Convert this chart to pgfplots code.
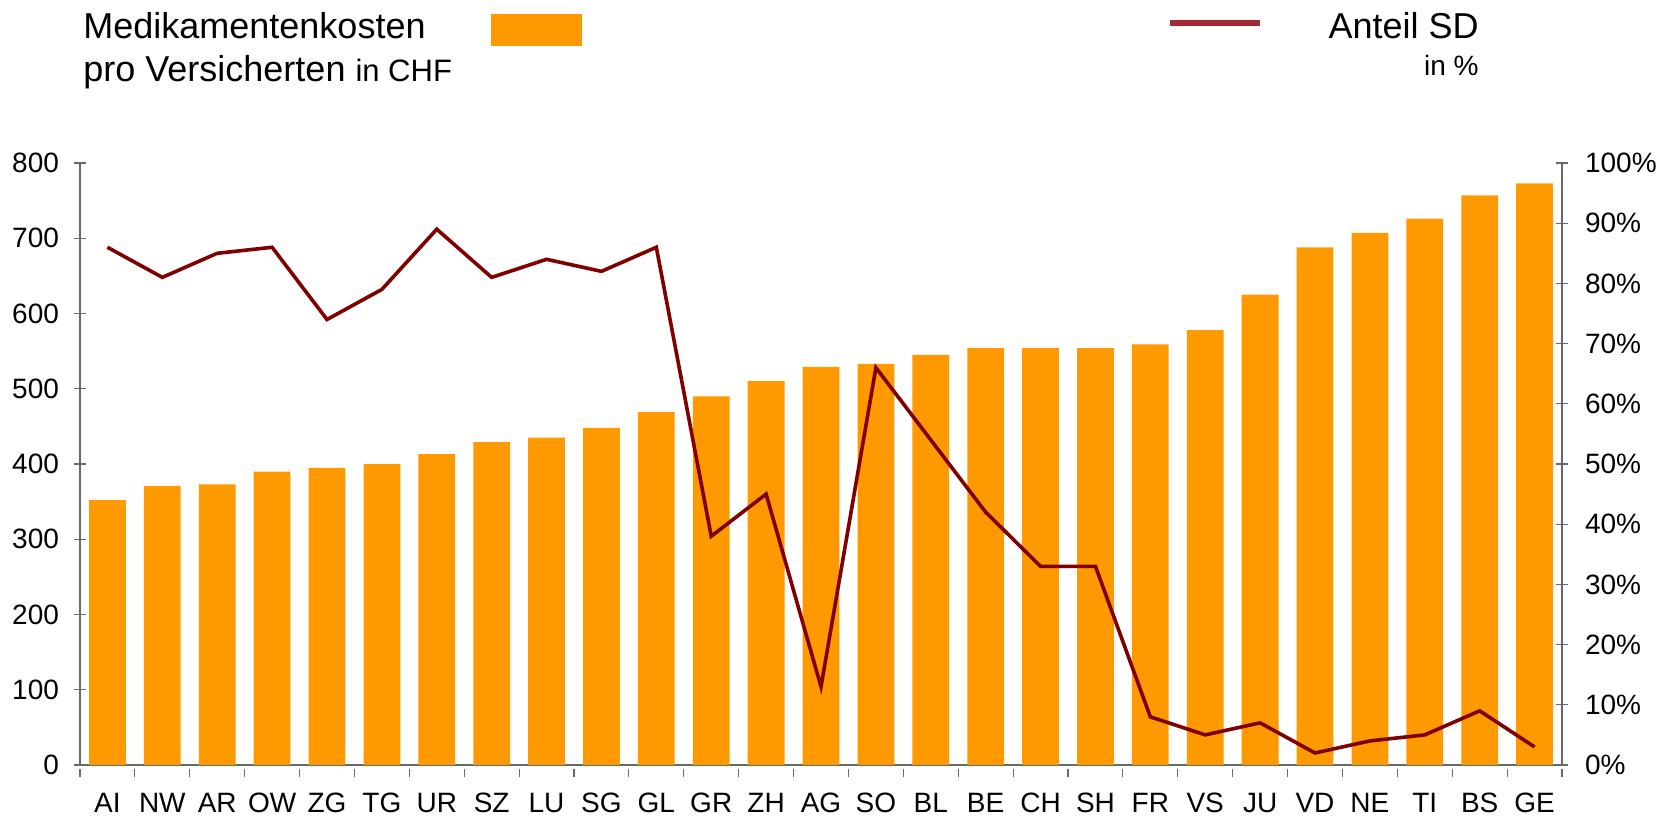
\documentclass[border=0pt]{standalone}
\usepackage{pgfplots}
\pgfplotsset{compat=1.18}
\usepackage{fontspec}
\setmainfont{Liberation Sans}
\definecolor{barorange}{RGB}{255,153,0}
\definecolor{linered}{RGB}{128,0,0}
\definecolor{legred}{RGB}{165,40,48}
\definecolor{axgray}{RGB}{105,105,105}
\begin{document}
\begin{tikzpicture}
\pgfplotsset{
 common/.style={
  scale only axis, width=741pt, height=301pt,
  xmin=-0.5, xmax=26.5,
  /pgf/number format/assume math mode=true,
  tick align=center, major tick length=6pt,
  ticklabel style={font=\fontsize{14}{16}\selectfont},
  axis line style={axgray, line width=0.6pt},
  tick style={axgray, line width=0.6pt},
 }}
\begin{axis}[common,
  axis x line*=bottom, axis y line*=left,
  ymin=0, ymax=800, ytick={0,100,...,800},
  xtick={0,...,26},
  xticklabels={AI,NW,AR,OW,ZG,TG,UR,SZ,LU,SG,GL,GR,ZH,AG,SO,BL,BE,CH,SH,FR,VS,JU,VD,NE,TI,BS,GE},
  major x tick style={draw=none},
  minor xtick={-0.5,0.5,...,26.5},
  minor tick length=4pt,
  minor x tick style={yshift=-2pt},
  ybar, bar width=0.67, bar shift=0pt,
  yticklabel style={xshift=-4pt},
  xticklabel style={yshift=-4.5pt},
]
\addplot[fill=barorange, draw=none] coordinates {
(0,352) (1,371) (2,373) (3,390) (4,395) (5,400) (6,413) (7,429) (8,435)
(9,448) (10,469) (11,490) (12,510) (13,529) (14,533) (15,545) (16,554)
(17,554) (18,554) (19,559) (20,578) (21,625) (22,688) (23,707) (24,726)
(25,757) (26,773)};
\end{axis}
\begin{axis}[common,
  axis x line=none, axis y line*=right,
  ymin=0, ymax=100, ytick={0,10,...,100},
  yticklabel={\pgfmathprintnumber{\tick}\%},
  yticklabel style={xshift=5pt},
]
\addplot[linered, line width=1.8pt, mark=none] coordinates {
(0,86) (1,81) (2,85) (3,86) (4,74) (5,79) (6,89) (7,81) (8,84) (9,82)
(10,86) (11,38) (12,45) (13,13) (14,66) (15,54) (16,42) (17,33) (18,33)
(19,8) (20,5) (21,7) (22,2) (23,4) (24,5) (25,9) (26,3)};
\end{axis}
\node[anchor=base west, inner sep=0, font=\fontsize{18}{20}\selectfont] at (1.5pt,363pt) {Medikamentenkosten};
\node[anchor=base west, inner sep=0, font=\fontsize{18}{20}\selectfont] at (1.5pt,341.5pt) {pro Versicherten {\fontsize{15.5}{17}\selectfont in CHF}};
\fill[barorange] (205.5pt,359.5pt) rectangle (251pt,375.5pt);
\draw[legred, line width=2.8pt] (545pt,371pt) -- (590pt,371pt);
\node[anchor=base east, inner sep=0, font=\fontsize{18}{20}\selectfont] at (699.5pt,363pt) {Anteil SD};
\node[anchor=base east, inner sep=0, font=\fontsize{14}{16}\selectfont] at (699.5pt,344.5pt) {in \%};
\pgfresetboundingbox
\path[use as bounding box] (-40pt,-26.5pt) rectangle (797.5pt,382.5pt);
\end{tikzpicture}
\end{document}
